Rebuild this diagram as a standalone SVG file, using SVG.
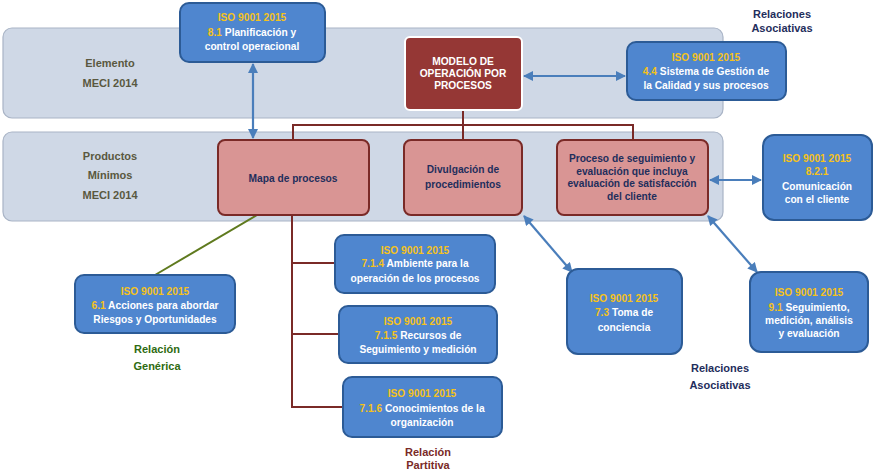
<svg xmlns="http://www.w3.org/2000/svg" width="879" height="471" viewBox="0 0 879 471">
<defs>
<marker id="ah" viewBox="0 0 10 10" refX="9" refY="5" markerWidth="11" markerHeight="10" orient="auto-start-reverse" markerUnits="userSpaceOnUse">
<path d="M0,0 L10,5 L0,10 z" fill="#4a7ebb"/>
</marker>
<style>
.band{fill:#cfd8e6;stroke:#a9b4c6;stroke-width:1.2}
.iso{fill:#4f86cf;stroke:#2c5b96;stroke-width:2}
.pink{fill:#d99594;stroke:#7a2a27;stroke-width:2}
.dark{fill:#953735;stroke:#ffffff;stroke-width:2}
text{font-family:"Liberation Sans",Arial,sans-serif;font-weight:bold;font-size:10.2px;text-anchor:middle}
.w{fill:#ffffff}
.y{fill:#f5c21b}
.n{fill:#1f2e5c}
.lbl{fill:#5a5840;font-size:11px}
.blue{fill:#1f2e5c;font-size:11px}
.green{fill:#2e6b12;font-size:11px}
.red{fill:#7a2a27;font-size:11px}
.arr{stroke:#4a7ebb;stroke-width:2.2;fill:none;marker-start:url(#ah);marker-end:url(#ah)}
.tree{stroke:#7a2a27;stroke-width:2;fill:none}
.gen{stroke:#5f7a1e;stroke-width:2;fill:none}
</style>
</defs>

<g id="bands">
<rect class="band" x="3" y="28" width="720" height="90" rx="9"/>
<rect class="band" x="3" y="132" width="720" height="89" rx="9"/>
</g>

<g id="side-labels">
<text class="lbl" x="110" y="67">Elemento</text>
<text class="lbl" x="110" y="87">MECI 2014</text>
<text class="lbl" x="110" y="160">Productos</text>
<text class="lbl" x="110" y="179">Mínimos</text>
<text class="lbl" x="110" y="199">MECI 2014</text>
</g>

<g id="connectors">
<path class="tree" d="M463,110 V125 M293,140 V125 H633 V140 M463,125 V140"/>
<path class="tree" d="M292,215 V407 H343 M292,263 H335 M292,334 H339"/>
<path class="gen" d="M257,215 L155,275"/>
<path class="arr" d="M253,64 V138"/>
<path class="arr" d="M524,76 H625"/>
<path class="arr" d="M710,180 H761"/>
<path class="arr" d="M524,216 L572,272"/>
<path class="arr" d="M708,216 L757,272"/>
</g>

<g id="n-8-1">
<rect class="iso" x="180" y="3" width="145" height="59" rx="9"/>
<text x="252" y="21" class="y">ISO 9001 2015</text>
<text x="252" y="36"><tspan class="y">8.1</tspan><tspan class="w"> Planificación y</tspan></text>
<text x="252" y="50" class="w">control operacional</text>
</g>

<g id="n-modelo">
<rect class="dark" x="405" y="37" width="117" height="73" rx="5"/>
<text x="463" y="65" class="w">MODELO DE</text>
<text x="463" y="77" class="w">OPERACIÓN POR</text>
<text x="463" y="89" class="w">PROCESOS</text>
</g>

<g id="n-4-4">
<rect class="iso" x="627" y="42" width="159" height="58" rx="9"/>
<text x="706" y="61" class="y">ISO 9001 2015</text>
<text x="706" y="75"><tspan class="y">4.4</tspan><tspan class="w"> Sistema de Gestión de</tspan></text>
<text x="706" y="89" class="w">la Calidad y sus procesos</text>
</g>

<g id="rel-asoc-top">
<text class="blue" x="782" y="18">Relaciones</text>
<text class="blue" x="782" y="32">Asociativas</text>
</g>

<g id="n-mapa">
<rect class="pink" x="218" y="140" width="151" height="75" rx="7"/>
<text x="293" y="182" class="n">Mapa de procesos</text>
</g>

<g id="n-divulgacion">
<rect class="pink" x="404" y="140" width="118" height="75" rx="7"/>
<text x="463" y="173" class="n">Divulgación de</text>
<text x="463" y="188" class="n">procedimientos</text>
</g>

<g id="n-proceso">
<rect class="pink" x="557" y="140" width="151" height="75" rx="7"/>
<text x="632" y="162" class="n">Proceso de seguimiento y</text>
<text x="632" y="175" class="n">evaluación que incluya</text>
<text x="632" y="187" class="n">evaluación de satisfacción</text>
<text x="632" y="200" class="n">del cliente</text>
</g>

<g id="n-8-2-1">
<rect class="iso" x="763" y="135" width="109" height="85" rx="11"/>
<text x="817" y="162" class="y">ISO 9001 2015</text>
<text x="817" y="175" class="y">8.2.1</text>
<text x="817" y="190" class="w">Comunicación</text>
<text x="817" y="203" class="w">con el cliente</text>
</g>

<g id="n-7-1-4">
<rect class="iso" x="335" y="235" width="160" height="58" rx="9"/>
<text x="415" y="254" class="y">ISO 9001 2015</text>
<text x="415" y="267"><tspan class="y">7.1.4</tspan><tspan class="w"> Ambiente para la</tspan></text>
<text x="415" y="282" class="w">operación de los procesos</text>
</g>

<g id="n-7-1-5">
<rect class="iso" x="339" y="306" width="158" height="57" rx="9"/>
<text x="418" y="325" class="y">ISO 9001 2015</text>
<text x="418" y="339"><tspan class="y">7.1.5</tspan><tspan class="w"> Recursos de</tspan></text>
<text x="418" y="353" class="w">Seguimiento y medición</text>
</g>

<g id="n-7-1-6">
<rect class="iso" x="343" y="377" width="159" height="60" rx="9"/>
<text x="422" y="397" class="y">ISO 9001 2015</text>
<text x="422" y="412"><tspan class="y">7.1.6</tspan><tspan class="w"> Conocimientos de la</tspan></text>
<text x="422" y="426" class="w">organización</text>
</g>

<g id="n-6-1">
<rect class="iso" x="75" y="275" width="160" height="58" rx="9"/>
<text x="155" y="295" class="y">ISO 9001 2015</text>
<text x="155" y="309"><tspan class="y">6.1</tspan><tspan class="w"> Acciones para abordar</tspan></text>
<text x="155" y="323" class="w">Riesgos y Oportunidades</text>
</g>

<g id="n-7-3">
<rect class="iso" x="567" y="269" width="115" height="85" rx="11"/>
<text x="624" y="302" class="y">ISO 9001 2015</text>
<text x="624" y="316"><tspan class="y">7.3</tspan><tspan class="w"> Toma de</tspan></text>
<text x="624" y="331" class="w">conciencia</text>
</g>

<g id="n-9-1">
<rect class="iso" x="750" y="272" width="118" height="80" rx="11"/>
<text x="809" y="296" class="y">ISO 9001 2015</text>
<text x="809" y="311"><tspan class="y">9.1</tspan><tspan class="w"> Seguimiento,</tspan></text>
<text x="809" y="324" class="w">medición, análisis</text>
<text x="809" y="337" class="w">y evaluación</text>
</g>

<g id="rel-labels">
<text class="green" x="157" y="353">Relación</text>
<text class="green" x="157" y="370">Genérica</text>
<text class="blue" x="720" y="372">Relaciones</text>
<text class="blue" x="720" y="389">Asociativas</text>
<text class="red" x="428" y="456">Relación</text>
<text class="red" x="428" y="469">Partitiva</text>
</g>
</svg>
